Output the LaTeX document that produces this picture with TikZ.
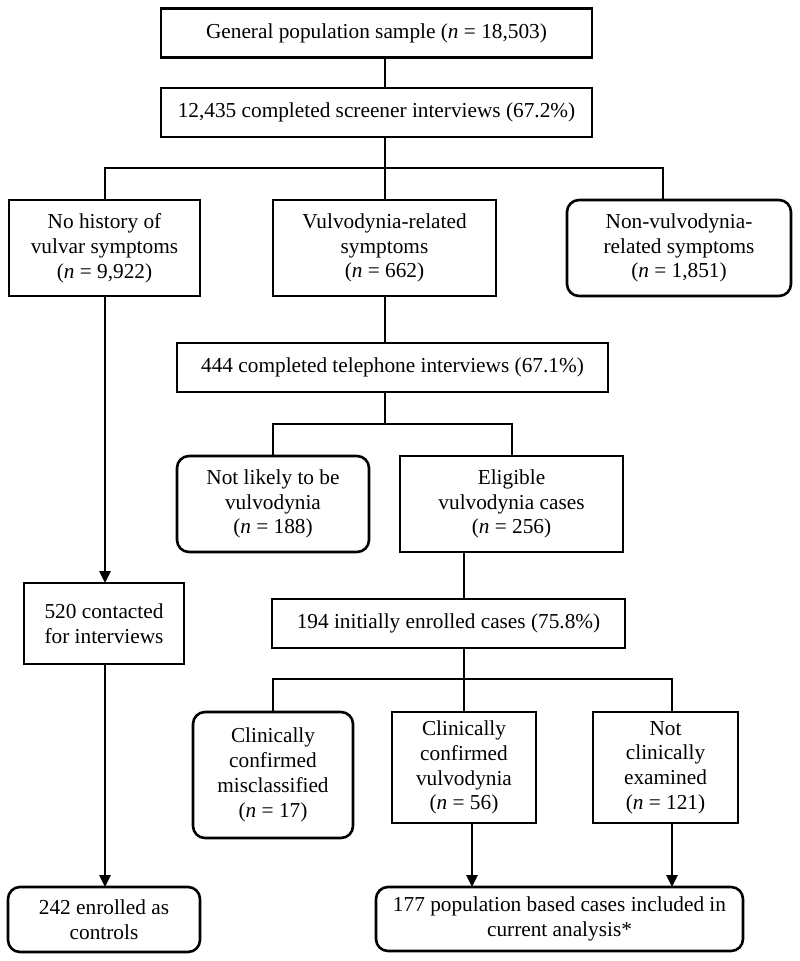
\documentclass[tikz,border=0pt]{standalone}
\usepackage{fontspec}
\setmainfont{Liberation Serif}
\usetikzlibrary{arrows.meta}
\begin{document}
\begin{tikzpicture}[x=1pt,y=-1pt,
  box/.style={draw=black, line width=2.6pt, inner sep=0pt, outer sep=0pt, align=center,
    font=\fontsize{21.3}{24.8}\selectfont, fill=white},
  rbox/.style={box, rounded corners=12pt},
  conn/.style={draw=black, line width=2.6pt},
  arr/.style={conn, -{Triangle[length=12pt,width=11pt]}}
]
\fill[white] (0,0) rectangle (800,961);
\useasboundingbox (0,0) rectangle (800,961);

% boxes: center = midpoint, sizes from extents
\node[box, minimum width=431pt, minimum height=49pt] (b1) at (376.5,33) {General population sample (\textit{n} = 18,503)};
\node[box, minimum width=431pt, minimum height=49pt] (b2) at (376.5,112.5) {12,435 completed screener interviews (67.2\%)};
\node[box, minimum width=191pt, minimum height=96pt] (b3) at (104.5,248) {No history of\\vulvar symptoms\\(\textit{n} = 9,922)};
\node[box, minimum width=223pt, minimum height=96pt] (b4) at (384.5,248) {Vulvodynia-related\\symptoms\\(\textit{n} = 662)};
\node[rbox, minimum width=224pt, minimum height=96pt] (b5) at (679,248) {Non-vulvodynia-\\related symptoms\\(\textit{n} = 1,851)};
\node[box, minimum width=431pt, minimum height=49pt] (b6) at (392.5,367.5) {444 completed telephone interviews (67.1\%)};
\node[rbox, minimum width=192pt, minimum height=96pt] (b7) at (273,504) {Not likely to be\\vulvodynia\\(\textit{n} = 188)};
\node[box, minimum width=223pt, minimum height=96pt] (b8) at (511.5,504) {Eligible\\vulvodynia cases\\(\textit{n} = 256)};
\node[box, minimum width=353pt, minimum height=49pt] (b9) at (448.5,623.5) {194 initially enrolled cases (75.8\%)};
\node[rbox, minimum width=160pt, minimum height=126pt] (b10) at (273,775) {Clinically\\confirmed\\misclassified\\(\textit{n} = 17)};
\node[box, minimum width=144pt, minimum height=111pt] (b11) at (464,767.5) {Clinically\\confirmed\\vulvodynia\\(\textit{n} = 56)};
\node[box, minimum width=145pt, minimum height=111pt] (b12) at (665.5,767.5) {Not\\clinically\\examined\\(\textit{n} = 121)};
\node[rbox, minimum width=367pt, minimum height=64pt] (b13) at (559.5,919) {177 population based cases included in\\current analysis*};
\node[box, minimum width=160pt, minimum height=81pt] (b14) at (104,623.5) {520 contacted\\for interviews};
\node[rbox, minimum width=192pt, minimum height=65pt] (b15) at (104,919.5) {242 enrolled as\\controls};

% junction coordinates
\coordinate (cA) at (385,168);
\coordinate (cAL) at (105,168);
\coordinate (cAR) at (663,168);
\coordinate (cB) at (385,424);
\coordinate (cBL) at (273,424);
\coordinate (cBR) at (512,424);
\coordinate (cC) at (464,679);
\coordinate (cCL) at (273,679);
\coordinate (cCR) at (672,679);
\coordinate (dA) at (472,0);
\coordinate (dB) at (672,0);
\coordinate (eL) at (105,0);

% connectors
\draw[conn] (b1.south -| cA) -- (b2.north -| cA);
\draw[conn] (b2.south -| cA) -- (cA);
\draw[conn] (b3.north -| cAL) |- (cAR) -- (b5.north -| cAR);
\draw[conn] (cA) -- (b4.north -| cA);
\draw[conn] (b4.south -| cA) -- (b6.north -| cA);
\draw[conn] (b6.south -| cB) -- (cB);
\draw[conn] (b7.north -| cBL) |- (cBR) -- (b8.north -| cBR);
\draw[conn] (b8.south -| cC) -- (b9.north -| cC);
\draw[conn] (b9.south -| cC) -- (cC);
\draw[conn] (b10.north -| cCL) |- (cCR) -- (b12.north -| cCR);
\draw[conn] (cC) -- (b11.north -| cC);
\draw[arr] (b11.south -| dA) -- (b13.north -| dA);
\draw[arr] (b12.south -| dB) -- (b13.north -| dB);
\draw[arr] (b3.south -| eL) -- (b14.north -| eL);
\draw[arr] (b14.south -| eL) -- (b15.north -| eL);
\end{tikzpicture}
\end{document}
